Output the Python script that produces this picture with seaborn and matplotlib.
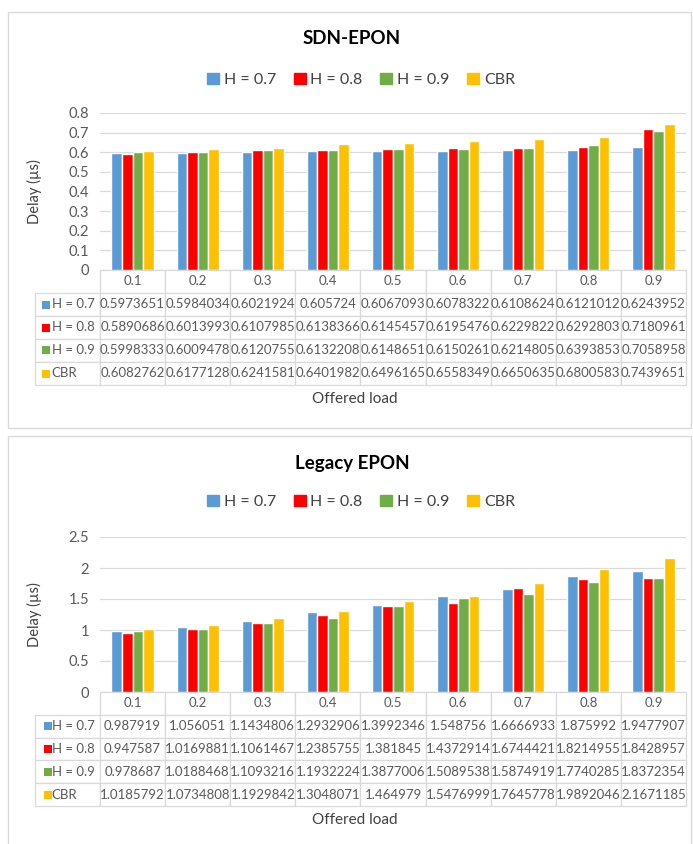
import numpy as np
import pandas as pd
import matplotlib
matplotlib.use('Agg')
import matplotlib.pyplot as plt
from matplotlib.patches import Rectangle
import seaborn as sns

loads = ['0.1', '0.2', '0.3', '0.4', '0.5', '0.6', '0.7', '0.8', '0.9']
series = ['H = 0.7', 'H = 0.8', 'H = 0.9', 'CBR']
colors = ['#5B9BD5', '#FF0000', '#70AD47', '#FFC000']

sdn_h07 = [0.5973651, 0.5984034, 0.6021924, 0.605724, 0.6067093, 0.6078322, 0.6108624, 0.6121012, 0.6243952]
sdn_h08 = [0.5890686, 0.6013993, 0.6107985, 0.6138366, 0.6145457, 0.6195476, 0.6229822, 0.6292803, 0.7180961]
sdn_h09 = [0.5998333, 0.6009478, 0.6120755, 0.6132208, 0.6148651, 0.6150261, 0.6214805, 0.6393853, 0.7058958]
sdn_cbr = [0.6082762, 0.6177128, 0.6241581, 0.6401982, 0.6496165, 0.6558349, 0.6650635, 0.6800583, 0.7439651]

leg_h07 = [0.987919, 1.056051, 1.1434806, 1.2932906, 1.3992346, 1.548756, 1.6666933, 1.875992, 1.9477907]
leg_h08 = [0.947587, 1.0169881, 1.1061467, 1.2385755, 1.381845, 1.4372914, 1.6744421, 1.8214955, 1.8428957]
leg_h09 = [0.978687, 1.0188468, 1.1093216, 1.1932224, 1.3877006, 1.5089538, 1.5874919, 1.7740285, 1.8372354]
leg_cbr = [1.0185792, 1.0734808, 1.1929842, 1.3048071, 1.464979, 1.5476999, 1.7645778, 1.9892046, 2.1671185]

sns.set_style('white')
plt.rcParams['font.family'] = ['Lato', 'DejaVu Sans']

W, H = 693, 844
fig = plt.figure(figsize=(W / 100, H / 100), dpi=100)


def fx(px):
    return px / W


def fy(py):
    return 1 - py / H


def panel(rows, title, top, bottom, table_bottom, label_left, ymax, ystep, title_y, legend_y, xlabel_y):
    left, right = 100, 686
    ax = fig.add_axes([fx(left), fy(bottom), (right - left) / W, (bottom - top) / H])
    df = pd.DataFrame({
        'load': loads * len(series),
        'series': [s for s in series for _ in loads],
        'delay': [v for r in rows for v in r],
    })
    sns.barplot(data=df, x='load', y='delay', hue='series', order=loads, hue_order=series,
                palette=colors, saturation=1, width=0.65, ax=ax, legend=False)
    ax.set_ylim(0, ymax)
    ax.set_yticks(np.arange(0, ymax + 1e-9, ystep))
    ax.yaxis.set_major_formatter(plt.FuncFormatter(lambda v, p: f'{v:g}'))
    ax.yaxis.grid(True, color='#D9D9D9', lw=0.9)
    ax.set_axisbelow(True)
    for s in ax.spines.values():
        s.set_visible(False)
    ax.tick_params(axis='y', length=0, labelsize=10.5, labelcolor='#595959', pad=8)
    ax.tick_params(axis='x', length=0, labelbottom=False)
    ax.set_xlabel('')
    ax.set_ylabel('Delay (µs)', fontsize=10.5, color='#404040')
    ax.yaxis.set_label_coords((42 - left) / (right - left), 0.5)

    # data table under the bars
    ah = bottom - top
    th = table_bottom - bottom
    cell_text = [[str(v) for v in r] for r in rows]
    tb = ax.table(cellText=cell_text, rowLabels=series, colLabels=loads,
                  colWidths=[1 / 9] * 9, cellLoc='center', rowLoc='left',
                  bbox=[0, -th / ah, 1, th / ah])
    tb.auto_set_font_size(False)
    tb.set_fontsize(9.5)
    for (r, c), cell in tb.get_celld().items():
        cell.set_edgecolor('#D9D9D9')
        cell.set_linewidth(0.9)
        cell.get_text().set_color('#595959')
        if c == -1:
            cell.set_width((left - label_left) / (right - left))
            cell.PAD = 0.26
    rh = th / 5
    for i, col in enumerate(colors):
        cy = bottom + rh * (i + 1.5)
        fig.add_artist(Rectangle((fx(label_left + 5), fy(cy + 4)), 8 / W, 8 / H,
                                 transform=fig.transFigure, color=col, lw=0))

    fig.text(fx(352), fy(title_y), title, ha='center', va='center',
             fontsize=13.5, fontweight='bold', color='#000000')
    handles = [Rectangle((0, 0), 1, 1, color=c) for c in colors]
    fig.legend(handles, series, loc='center', bbox_to_anchor=(fx(361), fy(legend_y)), ncol=4,
               frameon=False, fontsize=11.5, handlelength=0.75, handleheight=0.75,
               handletextpad=0.3, columnspacing=1.1, labelcolor='#404040')
    fig.text(fx(355), fy(xlabel_y), 'Offered load', ha='center', va='center',
             fontsize=11, color='#404040')
    return ax


panel([sdn_h07, sdn_h08, sdn_h09, sdn_cbr], 'SDN-EPON', 113, 270, 385, 37,
      0.8, 0.1, 39, 80, 399)
panel([leg_h07, leg_h08, leg_h09, leg_cbr], 'Legacy EPON', 537, 692, 806, 39,
      2.5, 0.5, 463, 502, 820)

# chart-area frames
fig.add_artist(Rectangle((fx(8), fy(428)), (691 - 8) / W, (428 - 12) / H,
                         transform=fig.transFigure, fill=False, edgecolor='#D9D9D9', lw=1))
fig.add_artist(Rectangle((fx(8), fy(860)), (691 - 8) / W, (860 - 436) / H,
                         transform=fig.transFigure, fill=False, edgecolor='#D9D9D9', lw=1))

fig.savefig('out.png', dpi=100)
plt.close()
